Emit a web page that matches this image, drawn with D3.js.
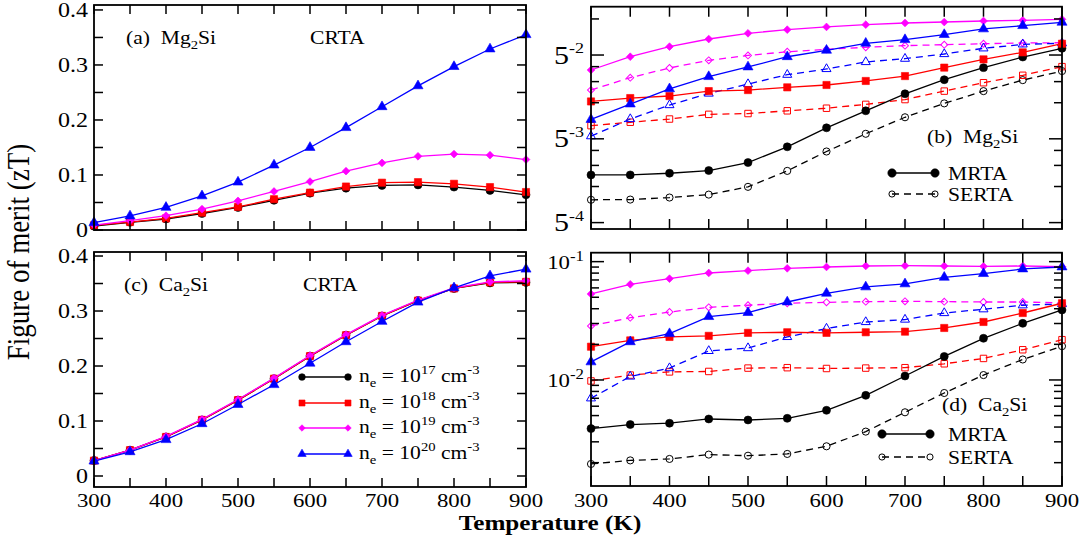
<!DOCTYPE html>
<html lang="en">
<head>
<meta charset="UTF-8">
<title>Figure of merit</title>
<script src="https://cdn.jsdelivr.net/npm/d3@7"></script>
<style>
    body { margin: 0; background: #fff; }
    svg { display: block; }
    text { white-space: pre; font-family: "Liberation Serif", "DejaVu Serif", "Times New Roman", serif; }
</style>
</head>
<body>
<svg id="chart" width="1086" height="542"></svg>
<script>
// temperatures (K)
const temps = [300, 350, 400, 450, 500, 550, 600, 650, 700, 750, 800, 850, 900];
const densities = ['17', '18', '19', '20'];

// (a) Mg2Si, CRTA
const mgCrta17 = [0.007, 0.014, 0.020, 0.030, 0.041, 0.054, 0.067, 0.076, 0.081, 0.082, 0.078, 0.072, 0.064];
const mgCrta18 = [0.0085, 0.0145, 0.021, 0.0315, 0.042, 0.056, 0.068, 0.079, 0.086, 0.087, 0.084, 0.078, 0.069];
const mgCrta19 = [0.009, 0.017, 0.026, 0.038, 0.053, 0.070, 0.088, 0.107, 0.122, 0.134, 0.138, 0.136, 0.128];
const mgCrta20 = [0.0133, 0.0255, 0.041, 0.062, 0.087, 0.118, 0.150, 0.186, 0.224, 0.262, 0.297, 0.329, 0.355];

// (c) Ca2Si, CRTA
const caCrta17 = [0.028, 0.047, 0.071, 0.102, 0.138, 0.177, 0.218, 0.256, 0.291, 0.319, 0.341, 0.351, 0.352];
const caCrta18 = [0.028, 0.047, 0.071, 0.102, 0.138, 0.177, 0.218, 0.256, 0.291, 0.319, 0.341, 0.352, 0.353];
const caCrta19 = [0.028, 0.047, 0.072, 0.103, 0.139, 0.178, 0.219, 0.257, 0.292, 0.320, 0.342, 0.353, 0.355];
const caCrta20 = [0.027, 0.044, 0.066, 0.095, 0.130, 0.166, 0.205, 0.244, 0.281, 0.316, 0.342, 0.364, 0.376];

// (b) Mg2Si, MRTA / SERTA
const mgMrta17 = [0.0040, 0.0040, 0.00413, 0.00435, 0.00507, 0.00686, 0.00988, 0.0137, 0.0190, 0.0249, 0.0314, 0.0385, 0.0455];
const mgSerta17 = [0.00248, 0.00249, 0.00259, 0.00274, 0.00318, 0.00432, 0.00627, 0.00881, 0.0121, 0.0158, 0.0200, 0.0247, 0.0294];
const mgMrta18 = [0.0164, 0.0175, 0.0182, 0.0200, 0.0204, 0.0215, 0.0225, 0.0243, 0.0267, 0.0314, 0.0368, 0.0421, 0.0497];
const mgSerta18 = [0.0103, 0.0110, 0.0117, 0.0128, 0.0130, 0.0137, 0.0144, 0.0155, 0.0170, 0.0200, 0.0235, 0.0271, 0.0320];
const mgMrta19 = [0.0300, 0.0387, 0.0470, 0.0544, 0.0607, 0.0651, 0.0686, 0.0717, 0.0740, 0.0754, 0.0769, 0.0779, 0.0794];
const mgSerta19 = [0.0204, 0.0259, 0.0312, 0.0361, 0.0397, 0.0426, 0.0446, 0.0464, 0.0479, 0.0488, 0.0497, 0.0504, 0.0507];
const mgMrta20 = [0.0116, 0.0156, 0.0209, 0.0264, 0.0318, 0.0387, 0.0438, 0.0501, 0.0537, 0.0592, 0.0660, 0.0703, 0.0750];
const mgSerta20 = [0.00842, 0.0117, 0.0153, 0.0191, 0.0229, 0.0274, 0.0306, 0.0350, 0.0373, 0.0408, 0.0455, 0.0491, 0.0501];

// (d) Ca2Si, MRTA / SERTA
const caMrta17 = [0.00388, 0.00420, 0.00431, 0.00468, 0.00459, 0.00474, 0.00554, 0.00741, 0.0108, 0.0158, 0.0225, 0.0301, 0.0391];
const caSerta17 = [0.00195, 0.00209, 0.00215, 0.00234, 0.00229, 0.00237, 0.00275, 0.00366, 0.00533, 0.00776, 0.0110, 0.0149, 0.0193];
const caMrta18 = [0.0191, 0.0216, 0.0231, 0.0236, 0.0250, 0.0253, 0.0250, 0.0253, 0.0256, 0.0275, 0.0309, 0.0368, 0.0445];
const caSerta18 = [0.00981, 0.0110, 0.0117, 0.0118, 0.0126, 0.0127, 0.0125, 0.0126, 0.0127, 0.0137, 0.0152, 0.0180, 0.0219];
const caMrta19 = [0.0533, 0.0643, 0.0718, 0.0802, 0.0839, 0.0878, 0.0901, 0.0919, 0.0925, 0.0919, 0.0913, 0.0919, 0.0907];
const caSerta19 = [0.0286, 0.0336, 0.0375, 0.0411, 0.0428, 0.0445, 0.0453, 0.0459, 0.0462, 0.0459, 0.0456, 0.0456, 0.0448];
const caMrta20 = [0.0142, 0.0210, 0.0246, 0.0343, 0.0371, 0.0456, 0.0540, 0.0611, 0.0648, 0.0737, 0.0792, 0.0867, 0.0901];
const caSerta20 = [0.0070, 0.0107, 0.0126, 0.0176, 0.0186, 0.0231, 0.0272, 0.0309, 0.0324, 0.0368, 0.0396, 0.0428, 0.0439];

// tick values
const xLabels = [300, 400, 500, 600, 700, 800, 900];
const linTicks = [0, 0.05, 0.1, 0.15, 0.2, 0.25, 0.3, 0.35, 0.4];
const linLabels = [0, 0.1, 0.2, 0.3, 0.4];
const pow5Labels = [-2, -3, -4];
const pow10Labels = [-1, -2];

const svg = d3.select('#chart');
const SX = 1.2; // the original glyphs are a bit wide
const FONT = '"Liberation Serif", "DejaVu Serif", "Times New Roman", serif';

// panels
const pa = {x: d3.scaleLinear().domain([300, 900]).range([94, 526]),
            y: d3.scaleLinear().domain([0, 0.409]).range([230, 5])};
const pc = {x: d3.scaleLinear().domain([300, 900]).range([94, 526]),
            y: d3.scaleLinear().domain([-0.02, 0.4073]).range([487, 252])};
const pb = {x: d3.scaleLinear().domain([300, 900]).range([591, 1062]),
            y: d3.scaleLog().base(5).domain([0.001415, 0.1012]).range([229, 6.7])};
const pd = {x: d3.scaleLinear().domain([300, 900]).range([591, 1062]),
            y: d3.scaleLog().base(10).domain([0.00127, 0.119]).range([486, 252.7])};

const colors = ['#000000', '#ff0000', '#ff00ff', '#0000ff'];
const shapes = ['circle', 'square', 'diamond', 'triangle'];
const symType = {circle: d3.symbolCircle, square: d3.symbolSquare, diamond: d3.symbolSquare, triangle: d3.symbolTriangle};
const symSize = {circle: 50, square: 52, diamond: 30, triangle: 44};

const gLines = svg.append('g');
const gFrame = svg.append('g');

function sym(g, x, y, shape, color, open, k) {
    g.append('path')
        .attr('d', d3.symbol(symType[shape], symSize[shape] * (k || 1))())
        .attr('transform', `translate(${x},${y})` + (shape === 'diamond' ? ' rotate(45)' : ''))
        .attr('fill', open ? 'none' : color)
        .attr('stroke', color)
        .attr('stroke-width', open ? 1 : 0.6);
}

function series(p, vals, i, dashed) {
    const pts = temps.map((t, j) => [p.x(t), p.y(vals[j])]);
    gLines.append('path')
        .attr('d', d3.line()(pts))
        .attr('fill', 'none')
        .attr('stroke', colors[i])
        .attr('stroke-width', 1.3)
        .attr('stroke-dasharray', dashed ? '7,5' : null);
    pts.forEach(q => sym(gLines, q[0], q[1], shapes[i], colors[i], dashed, dashed ? 0.8 : 1));
}

// text with sub/superscripts, stretched a little horizontally
function rich(x, y, parts, size, anchor, weight) {
    const g = svg.append('g').attr('transform', `translate(${x},${y}) scale(${SX},1)`);
    const t = g.append('text')
        .attr('font-family', FONT)
        .attr('font-size', size)
        .attr('text-anchor', anchor || 'start');
    if (weight) t.attr('font-weight', weight);
    let off = 0;
    parts.forEach(p => {
        const target = p.s === 'sup' ? -0.42 * size : p.s === 'sub' ? 0.3 * size : 0;
        const ts = t.append('tspan').attr('dy', target - off).text(p.t);
        if (p.s) ts.attr('font-size', p.fs || size * 0.68);
        off = target;
    });
    return t;
}

function frame(p, xTickLen, yTicks, yLen) {
    const [x0, x1] = p.x.range();
    const [y1, y0] = p.y.range();
    gFrame.append('rect').attr('x', x0).attr('y', y0)
        .attr('width', x1 - x0).attr('height', y1 - y0)
        .attr('fill', 'none').attr('stroke', '#000').attr('stroke-width', 1.8);
    temps.forEach(t => {
        const x = p.x(t);
        gFrame.append('line').attr('x1', x).attr('x2', x).attr('y1', y1).attr('y2', y1 - xTickLen);
        gFrame.append('line').attr('x1', x).attr('x2', x).attr('y1', y0).attr('y2', y0 + xTickLen);
    });
    yTicks.forEach((v, i) => {
        const y = p.y(v), len = yLen[i];
        gFrame.append('line').attr('x1', x0).attr('x2', x0 + len).attr('y1', y).attr('y2', y);
        gFrame.append('line').attr('x1', x1).attr('x2', x1 - len).attr('y1', y).attr('y2', y);
    });
}

// --- linear panels (a), (c)
[[pa, [mgCrta17, mgCrta18, mgCrta19, mgCrta20]], [pc, [caCrta17, caCrta18, caCrta19, caCrta20]]].forEach(([p, sets]) => {
    sets.forEach((v, i) => series(p, v, i, false));
    frame(p, 9, linTicks, linTicks.map(() => 9));
    linLabels.forEach(v => rich(88, p.y(v) + 7, [{t: v === 0 ? '0' : String(v)}], 20, 'end'));
});

// --- log panels (b), (d)
const logPanels = [
    [pb, [mgMrta17, mgMrta18, mgMrta19, mgMrta20], [mgSerta17, mgSerta18, mgSerta19, mgSerta20]],
    [pd, [caMrta17, caMrta18, caMrta19, caMrta20], [caSerta17, caSerta18, caSerta19, caSerta20]]
];
logPanels.forEach(([p, mrta, serta]) => {
    serta.forEach((v, i) => series(p, v, i, true));
    mrta.forEach((v, i) => series(p, v, i, false));
});

// ticks of (b): powers of 5 with 2,3,4 between
const [b0, b1] = pb.y.domain();
const bMajor = [], bMinor = [];
for (let k = -5; k <= -1; k++) {
    const base = Math.pow(5, k);
    if (base >= b0 && base <= b1) bMajor.push(base);
    [2, 3, 4].forEach(m => { if (m * base >= b0 && m * base <= b1) bMinor.push(m * base); });
}
frame(pb, 10, bMajor.concat(bMinor), bMajor.map(() => 13).concat(bMinor.map(() => 8)));
pow5Labels.forEach(e => rich(584, pb.y(Math.pow(5, e)) + 8.5,
    [{t: '5'}, {t: String(e), s: 'sup', fs: 15}], 25, 'end'));

// ticks of (d): decades with 2..9 between
const [d0, d1] = pd.y.domain();
const dMajor = [], dMinor = [];
for (let k = -3; k <= -1; k++) {
    const base = Math.pow(10, k);
    if (base >= d0 && base <= d1) dMajor.push(base);
    [2, 3, 4, 5, 6, 7, 8, 9].forEach(m => { if (m * base >= d0 && m * base <= d1) dMinor.push(m * base); });
}
frame(pd, 10, dMajor.concat(dMinor), dMajor.map(() => 13).concat(dMinor.map(() => 8)));
pow10Labels.forEach(e => rich(584, pd.y(Math.pow(10, e)) + 7,
    [{t: '10'}, {t: String(e), s: 'sup', fs: 14}], 19, 'end'));

gFrame.selectAll('line').attr('stroke', '#000').attr('stroke-width', 1.5);

// x tick labels on the bottom row
[pc, pd].forEach(p => xLabels.forEach(t => rich(p.x(t), 507, [{t: String(t)}], 19, 'middle')));

// panel captions
rich(126, 44, [{t: '(a)  Mg'}, {t: '2', s: 'sub'}, {t: 'Si'}], 18);
rich(310, 44, [{t: 'CRTA'}], 18);
rich(124, 291, [{t: '(c)  Ca'}, {t: '2', s: 'sub'}, {t: 'Si'}], 18);
rich(303, 291, [{t: 'CRTA'}], 18);
rich(927, 143, [{t: '(b)  Mg'}, {t: '2', s: 'sub'}, {t: 'Si'}], 18);
rich(942, 411, [{t: '(d)  Ca'}, {t: '2', s: 'sub'}, {t: 'Si'}], 18);

// legend of (c)
const legY = [377, 403, 428, 454];
densities.forEach((d, i) => {
    const y = legY[i];
    svg.append('line').attr('x1', 302).attr('x2', 348).attr('y1', y).attr('y2', y)
        .attr('stroke', colors[i]).attr('stroke-width', 1.3);
    sym(svg, 302, y, shapes[i], colors[i], false, 0.7);
    sym(svg, 348, y, shapes[i], colors[i], false, 0.7);
    rich(359, y + 5, [{t: 'n'}, {t: 'e', s: 'sub'}, {t: ' = 10'}, {t: d, s: 'sup'}, {t: ' cm'}, {t: '-3', s: 'sup'}], 18);
});

// MRTA / SERTA legends of (b) and (d)
[[892, 935, 173, 194], [882, 930, 434, 457]].forEach(([xa, xb, ym, ys]) => {
    svg.append('line').attr('x1', xa).attr('x2', xb).attr('y1', ym).attr('y2', ym)
        .attr('stroke', '#000').attr('stroke-width', 1.3);
    sym(svg, xa, ym, 'circle', '#000', false, 1.1);
    sym(svg, xb, ym, 'circle', '#000', false, 1.1);
    svg.append('line').attr('x1', xa).attr('x2', xb).attr('y1', ys).attr('y2', ys)
        .attr('stroke', '#000').attr('stroke-width', 1.3).attr('stroke-dasharray', '7,5');
    sym(svg, xa, ys, 'circle', '#000', true, 0.6);
    sym(svg, xb, ys, 'circle', '#000', true, 0.6);
    rich(948, ym + 6.5, [{t: 'MRTA'}], 18);
    rich(948, ys + 6.5, [{t: 'SERTA'}], 18);
});

// axis titles
rich(550, 530, [{t: 'Temperature (K)'}], 21, 'middle', 'bold');
svg.append('g').attr('transform', 'translate(29,252) scale(1.15,1) rotate(-90)')
    .append('text')
    .attr('font-family', FONT)
    .attr('font-size', 27)
    .attr('text-anchor', 'middle')
    .text('Figure of merit (zT)');
</script>
</body>
</html>
